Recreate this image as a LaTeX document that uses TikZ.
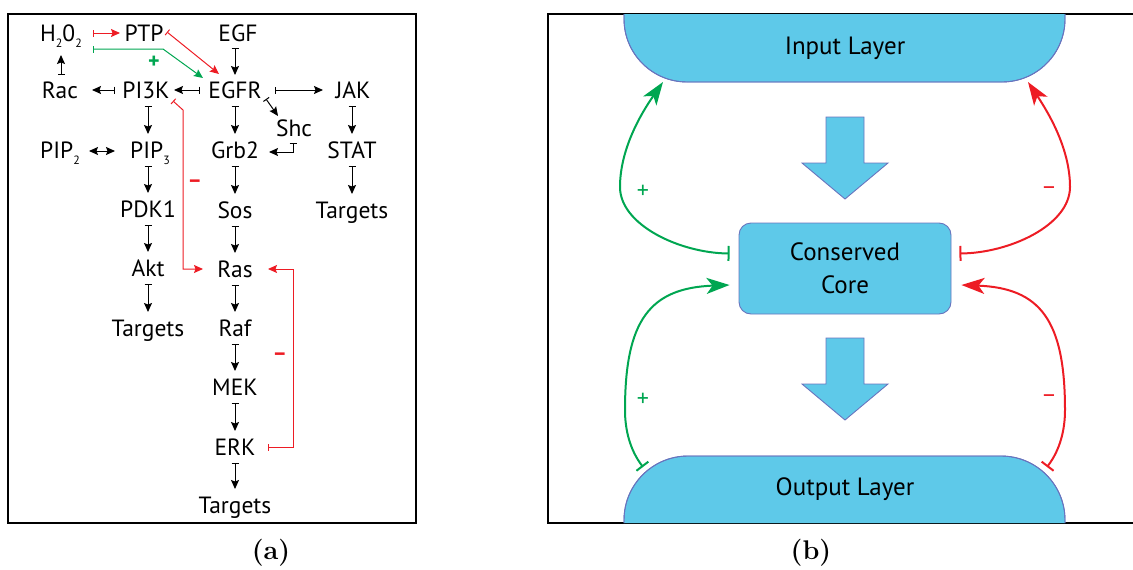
\documentclass[tikz,border=0pt]{standalone}
\usepackage{fontspec}
\newfontfamily\dfont{PT Sans}
\usetikzlibrary{arrows.meta,calc}
\definecolor{gr}{RGB}{0,166,81}
\definecolor{rd}{RGB}{237,28,36}
\definecolor{fillb}{RGB}{94,201,233}
\definecolor{edgeb}{RGB}{104,116,190}
\newcommand\mysub[1]{\raisebox{-6pt}{\fontsize{12}{12}\selectfont #1}}
\begin{document}
\begin{tikzpicture}[x=1pt,y=-1pt,
  lab/.style={font=\dfont\fontsize{23.5}{23.5}\selectfont, inner sep=0pt, text height=16.5pt, text depth=0pt, anchor=center},
  bigtxt/.style={font=\dfont\fontsize{25}{30}\selectfont, inner sep=0pt, align=center},
  act/.style={line width=1pt, {Bar[width=7pt,line width=1pt]}-{Stealth[length=9pt,width=8pt,inset=1.5pt]}},
  dbl/.style={line width=1pt, {Stealth[length=9pt,width=8pt,inset=1.5pt]}-{Stealth[length=9pt,width=8pt,inset=1.5pt]}},
  vshort/.style={shorten <=16pt, shorten >=16pt},
  sgn/.style={font=\dfont\bfseries\fontsize{22}{22}\selectfont, inner sep=0pt},
  bsgn/.style={font=\dfont\fontsize{24}{24}\selectfont, inner sep=0pt},
  fb/.style={line width=2pt, {Bar[width=15pt,line width=2pt]}-{Stealth[length=23pt,width=16pt,inset=6pt]}},
  lyr/.style={fill=fillb, draw=edgeb, line width=0.9pt},
  blk/.style={fill=fillb, draw=edgeb, line width=0.9pt, line join=miter},
  frm/.style={line width=2.5pt},
  captxt/.style={font=\fontsize{27}{27}\selectfont\bfseries, inner sep=0pt}
]
\useasboundingbox (0,0) rectangle (1133,570);

% ---------- panel (a) ----------
\draw[frm] (8,14) rectangle (416,523);

\node[lab] (H2O2) at (61,33) {H\mysub{2}0\mysub{2}};
\node[lab] (PTP)  at (144,33) {PTP};
\node[lab] (EGF)  at (238,33) {EGF};
\node[lab] (Rac)  at (60,90) {Rac};
\node[lab] (PI3K) at (146,90) {PI3K};
\node[lab] (EGFR) at (235,90) {EGFR};
\node[lab] (JAK)  at (353,90) {JAK};
\node[lab] (Shc)  at (294,128) {Shc};
\node[lab] (PIP2) at (60,150) {PIP\mysub{2}};
\node[lab] (PIP3) at (150,150) {PIP\mysub{3}};
\node[lab] (Grb2) at (235,150) {Grb2};
\node[lab] (STAT) at (352,150) {STAT};
\node[lab] (PDK1) at (148,209) {PDK1};
\node[lab] (Sos)  at (235,210) {Sos};
\node[lab] (T3)   at (352,210) {Targets};
\node[lab] (Akt)  at (148,268) {Akt};
\node[lab] (Ras)  at (235,269) {Ras};
\node[lab] (T1)   at (148,328) {Targets};
\node[lab] (Raf)  at (235,328) {Raf};
\node[lab] (MEK)  at (235,387) {MEK};
\node[lab] (ERK)  at (235,447) {ERK};
\node[lab] (T2)   at (235,505) {Targets};

% black activations
\draw[act, shorten <=15pt, shorten >=15pt] (EGFR.center |- EGF.center) -- (EGFR.center);
\draw[act, shorten <=35pt, shorten >=28pt] (EGFR.center) -- (PI3K.center);
\draw[act, shorten <=31pt, shorten >=32pt] (PI3K.center) -- (Rac.center);
\draw[act, shorten <=40pt, shorten >=30pt] (EGFR.center) -- (JAK.center);
\draw[act] ($(Rac.center)+(1,-15)$) -- ($(H2O2.center)+(0,22)$);
\draw[act] ($(EGFR.center)+(31,9)$) -- ($(Shc.center)+(-16,-12)$);
\draw[act] ($(Shc.center)+(-1,15)$) |- ($(Grb2.center)+(34,2)$);
\draw[dbl] ($(PIP2.center)+(29,1)$) -- ($(PIP3.center)+(-35,1)$);
\draw[act, vshort] (PDK1.center |- PI3K.center) -- (PDK1.center |- PIP3.center);
\draw[act, vshort] (PDK1.center |- PIP3.center) -- (PDK1.center);
\draw[act, vshort] (PDK1.center) -- (Akt.center);
\draw[act, vshort] (Akt.center) -- (T1.center);
\draw[act, vshort] (EGFR.center) -- (Grb2.center);
\draw[act, vshort] (Grb2.center) -- (Sos.center);
\draw[act, vshort] (Sos.center) -- (Ras.center);
\draw[act, vshort] (Ras.center) -- (Raf.center);
\draw[act, vshort] (Raf.center) -- (MEK.center);
\draw[act, vshort] (MEK.center) -- (ERK.center);
\draw[act, vshort] (ERK.center) -- (T2.center);
\draw[act, vshort] (STAT.center |- JAK.center) -- (STAT.center);
\draw[act, vshort] (STAT.center) -- (T3.center);

% coloured edges
\draw[act, rd] ($(H2O2.center)+(32,0)$) -- ($(PTP.center)+(-24,0)$);
\draw[act, gr] ($(H2O2.center)+(32,16)$) -- ($(PTP.center)+(19,16)$) -- ($(EGFR.center)+(-32,-12)$);
\draw[act, rd] ($(PTP.center)+(23,-1)$) -- ($(EGFR.center)+(-16,-16)$);
\draw[act, rd] ($(PI3K.center)+(27,11)$) -- ($(PI3K.center)+(37,20)$) |- ($(Ras.center)+(-32,0)$);
\draw[act, rd] ($(ERK.center)+(33,0)$) -| ($(Ras.center)+(58,0)$) -- ($(Ras.center)+(33,0)$);

\node[sgn, gr] (p1) at (154,62) {+};
\node[sgn, rd] (m1) at (195,184) {–};
\node[sgn, rd] (m2) at (280,357) {–};

% ---------- panel (b) ----------
\draw[frm] (548,14) rectangle (1145,523);

\path[lyr] (624,14) [rounded corners=63pt] -- (624,82) -- (1065,82) [sharp corners] -- (1065,14);
\draw[edgeb, line width=0.9pt, rounded corners=63pt] (624,14) -- (624,82) -- (1065,82) -- (1065,14);
\node[bigtxt] (In) at (845,48) {Input Layer};

\path[lyr] (624,523) [rounded corners=64pt] -- (624,456) -- (1065,456) [sharp corners] -- (1065,523);
\draw[edgeb, line width=0.9pt, rounded corners=64pt] (624,523) -- (624,456) -- (1065,456) -- (1065,523);
\node[bigtxt] (Out) at (845,489) {Output Layer};

\node[lyr, rounded corners=12pt, minimum width=212pt, minimum height=91pt, bigtxt, font=\dfont\fontsize{25}{33}\selectfont] (Core) at (845,268.5) {Conserved\\Core};

\draw[blk] (826,117) -- (864,117) -- (864,163) -- (888,163) -- (845,199) -- (802,163) -- (826,163) -- cycle;
\draw[blk] (826,338) -- (864,338) -- (864,384) -- (888,384) -- (845,420) -- (802,384) -- (826,384) -- cycle;

\draw[fb, gr] ($(Core.west)+(-9,-15)$) .. controls (680,253) and (620,225) .. (620,187) .. controls (620,150) and (640,115) .. ($(In.center)+(-182,34)$);
\draw[fb, rd] ($(Core.east)+(8,-15)$) .. controls (1010,253) and (1070,225) .. (1070,187) .. controls (1070,150) and (1050,115) .. ($(In.center)+(183,34)$);
\draw[fb, gr] ($(Out.center)+(-202,-22)$) .. controls (630,450) and (625,430) .. (625,410) .. controls (625,320) and (650,288) .. ($(Core.west)+(-9,16.5)$);
\draw[fb, rd] ($(Out.center)+(202,-22)$) .. controls (1060,450) and (1065,430) .. (1065,410) .. controls (1065,320) and (1040,288) .. ($(Core.east)+(10,16.5)$);

\node[bsgn, gr] (p2) at (643,192) {+};
\node[bsgn, gr] (p3) at (643,400) {+};
\node[bsgn, rd] (m3) at (1049,191) {–};
\node[bsgn, rd] (m4) at (1049,399) {–};

% captions
\node[captxt] (ca) at (271,553) {(a)};
\node[captxt] (cb) at (811,553) {(b)};
\end{tikzpicture}
\end{document}
